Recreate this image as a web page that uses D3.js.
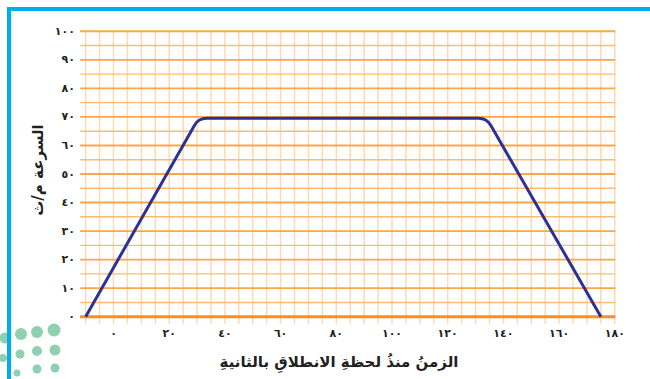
<!DOCTYPE html>
<html>
<head>
<meta charset="utf-8">
<script src="https://cdn.jsdelivr.net/npm/d3@7"></script>
<style>
  html, body { margin: 0; padding: 0; background: #ffffff; }
  svg { display: block; }
  text { font-family: "DejaVu Sans", sans-serif; fill: #231f20; }
</style>
</head>
<body>
<svg id="chart" width="650" height="379"></svg>
<script>
// ---- data ----
const timeValues  = [-10, 30.5, 134, 175];   // seconds (as read against the printed axis)
const speedValues = [0, 69.5, 69.5, 0];       // m/s
const xTickValues = [0, 20, 40, 60, 80, 100, 120, 140, 160, 180];
const xTickLabels = ['٠','٢٠','٤٠','٦٠','٨٠','١٠٠','١٢٠','١٤٠','١٦٠','١٨٠'];
const yTickValues = [0, 10, 20, 30, 40, 50, 60, 70, 80, 90, 100];
const yTickLabels = ['٠','١٠','٢٠','٣٠','٤٠','٥٠','٦٠','٧٠','٨٠','٩٠','١٠٠'];
const xTitle = 'الزمنُ منذُ لحظةِ الانطلاقِ بالثانيةِ';
const yTitle = 'السرعة م/ث';

const svg = d3.select('#chart');

// ---- scales ----
const x = d3.scaleLinear().domain([0, 180]).range([113.5, 614.8]);
const y = d3.scaleLinear().domain([0, 100]).range([316.7, 31.3]);

// ---- frame ----
svg.append('rect').attr('x', 7).attr('y', 7).attr('width', 643).attr('height', 4).attr('fill', '#00aeef');

// decorative logo dots
const dots = [[5,338,5.5],[21,334,6],[37,332,6],[54,330,6.5],
              [3,358,4],[20,354,4.5],[37,351,5],[55,350,5.5],
              [17,373,3.5],[37,369,4.5],[55,368,4.5]];
svg.append('g').selectAll('circle').data(dots).join('circle')
  .attr('cx', d => d[0]).attr('cy', d => d[1]).attr('r', d => d[2])
  .attr('fill', '#8fd0b0');
svg.append('rect').attr('x', 7).attr('y', 7).attr('width', 4).attr('height', 372).attr('fill', '#00aeef');

// ---- grid ----
const g = svg.append('g');
const vLines = d3.range(-10, 180.01, 5);
g.selectAll('line.v').data(vLines).join('line')
  .attr('class', 'v')
  .attr('x1', d => x(d)).attr('x2', d => x(d))
  .attr('y1', y(100)).attr('y2', y(0) + 7)
  .attr('stroke', '#fdd9b5').attr('stroke-width', 1.5);

const hLines = d3.range(5, 100.01, 5);
g.selectAll('line.h').data(hLines).join('line')
  .attr('class', 'h')
  .attr('x1', x(-12)).attr('x2', x(180) + 0.5)
  .attr('y1', d => y(d)).attr('y2', d => y(d))
  .attr('stroke', d => d % 10 === 0 ? '#f8a845' : '#fbbb70')
  .attr('stroke-width', d => d % 10 === 0 ? 1.9 : 1.4);

g.append('line')
  .attr('x1', x(-12)).attr('x2', x(180) + 0.5)
  .attr('y1', y(0)).attr('y2', y(0))
  .attr('stroke', '#f7901e').attr('stroke-width', 3);

// ---- tick labels ----
svg.append('g').selectAll('text').data(xTickValues).join('text')
  .attr('x', d => x(d)).attr('y', 333)
  .attr('text-anchor', 'middle').attr('dominant-baseline', 'central')
  .attr('font-size', 11).attr('font-weight', 'bold')
  .text((d, i) => xTickLabels[i]);

svg.append('g').selectAll('text').data(yTickValues).join('text')
  .attr('x', 75).attr('y', d => y(d))
  .attr('text-anchor', 'end').attr('dominant-baseline', 'central')
  .attr('font-size', 11).attr('font-weight', 'bold')
  .text((d, i) => yTickLabels[i]);

// ---- titles ----
svg.append('text')
  .attr('x', 339).attr('y', 362)
  .attr('text-anchor', 'middle').attr('dominant-baseline', 'central')
  .attr('font-size', 15).attr('font-weight', 'bold')
  .attr('direction', 'rtl')
  .text(xTitle);

svg.append('text')
  .attr('transform', 'translate(38,170) rotate(-90)')
  .attr('text-anchor', 'middle').attr('dominant-baseline', 'central')
  .attr('font-size', 15).attr('font-weight', 'bold')
  .attr('direction', 'rtl')
  .text(yTitle);

// ---- speed line with rounded corners ----
const pts = timeValues.map((t, i) => [x(t), y(speedValues[i])]);
const p = d3.path();
p.moveTo(pts[0][0], pts[0][1]);
for (let i = 1; i < pts.length - 1; i++) {
  p.arcTo(pts[i][0], pts[i][1], pts[i + 1][0], pts[i + 1][1], 14);
}
p.lineTo(pts[pts.length - 1][0], pts[pts.length - 1][1]);
svg.append('path')
  .attr('d', p.toString())
  .attr('fill', 'none')
  .attr('stroke', '#2e3192')
  .attr('stroke-width', 3)
  .attr('stroke-linejoin', 'round');
</script>
</body>
</html>
